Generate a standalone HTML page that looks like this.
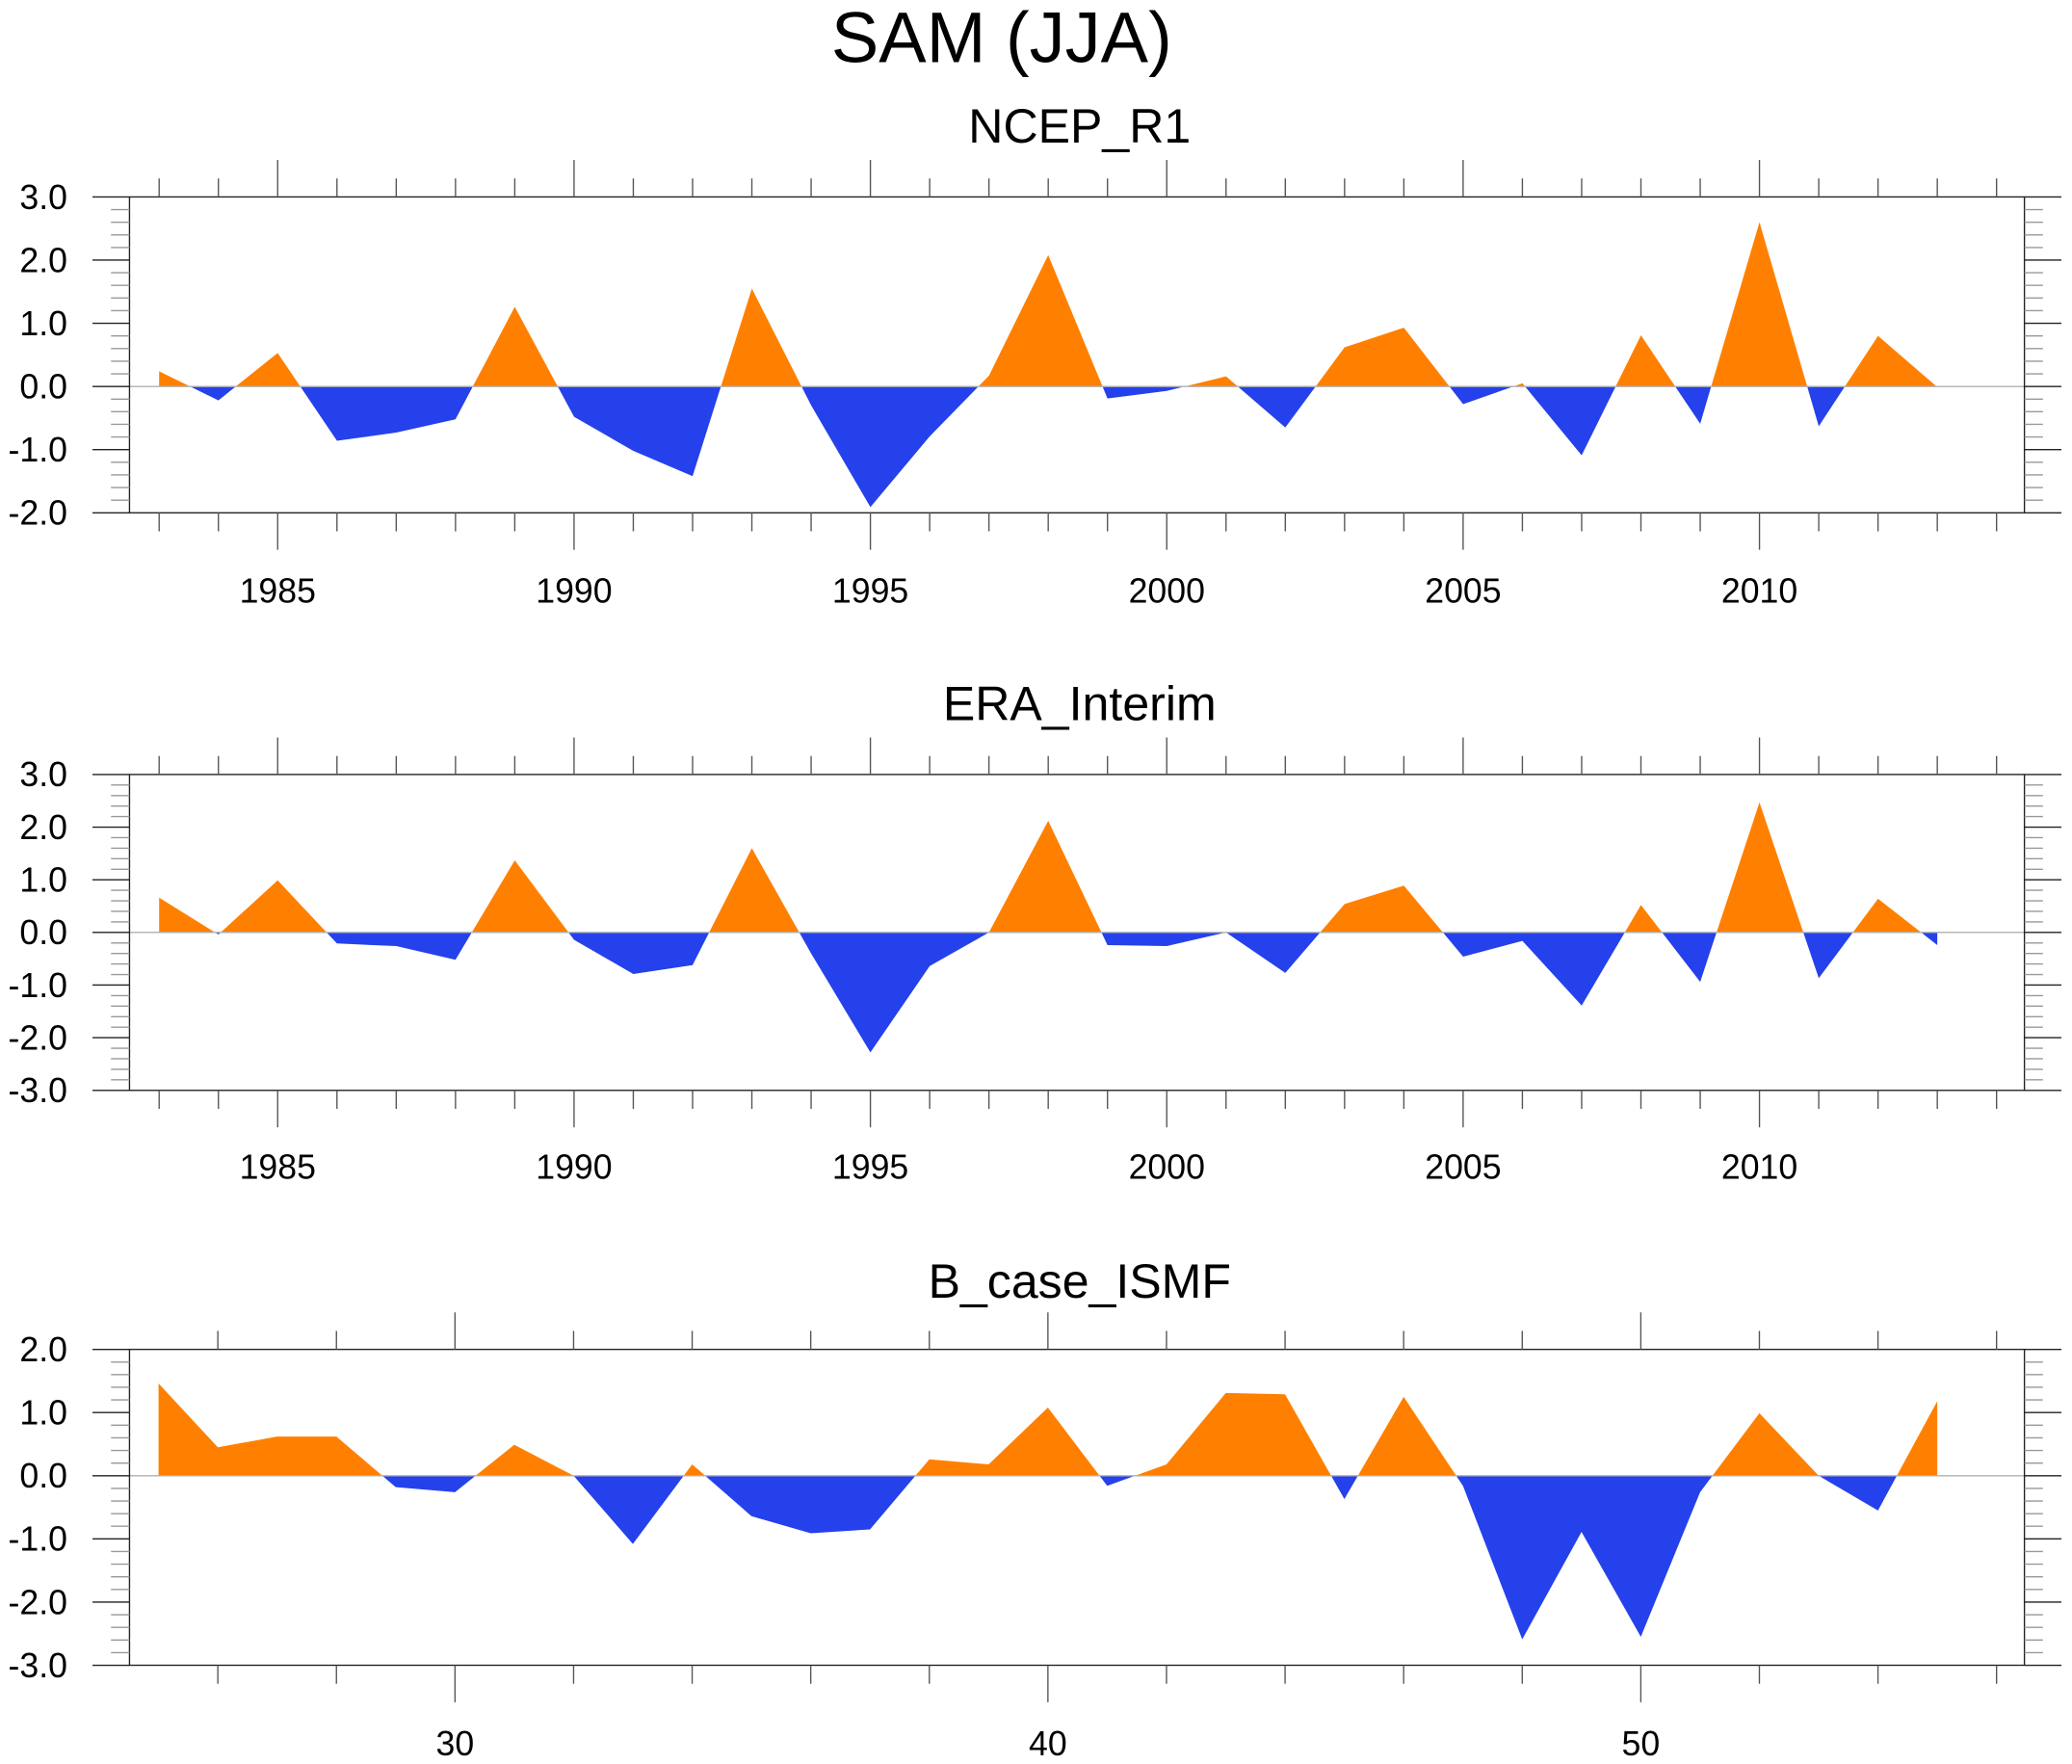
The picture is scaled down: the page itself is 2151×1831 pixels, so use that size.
<!DOCTYPE html>
<html><head><meta charset="utf-8"><style>
html,body{margin:0;padding:0;background:#fff}
svg{display:block;font-family:"Liberation Sans",sans-serif}
</style></head><body>
<svg id="chart" width="2151" height="1831" viewBox="0 0 1568 1334.7" xmlns="http://www.w3.org/2000/svg">
<text x="758" y="47" font-size="54" text-anchor="middle">SAM (JJA)</text>
</svg>
<script>
const ncepYears = [1983,1984,1985,1986,1987,1988,1989,1990,1991,1992,1993,1994,1995,1996,1997,1998,1999,2000,2001,2002,2003,2004,2005,2006,2007,2008,2009,2010,2011,2012,2013];
const ncepValues = [0.24,-0.22,0.53,-0.86,-0.73,-0.52,1.26,-0.48,-1.02,-1.42,1.55,-0.3,-1.91,-0.79,0.17,2.08,-0.19,-0.07,0.16,-0.65,0.62,0.93,-0.28,0.05,-1.09,0.81,-0.59,2.6,-0.63,0.8,-0.01];
const eraValues = [0.66,-0.04,0.99,-0.21,-0.26,-0.52,1.37,-0.14,-0.79,-0.62,1.6,-0.4,-2.28,-0.64,0.0,2.12,-0.24,-0.26,0.0,-0.77,0.54,0.89,-0.46,-0.16,-1.39,0.52,-0.94,2.47,-0.87,0.64,-0.24];
const caseYears = [25,26,27,28,29,30,31,32,33,34,35,36,37,38,39,40,41,42,43,44,45,46,47,48,49,50,51,52,53,54,55];
const caseValues = [1.46,0.45,0.62,0.62,-0.18,-0.26,0.49,0.0,-1.08,0.18,-0.64,-0.91,-0.85,0.26,0.18,1.08,-0.16,0.18,1.31,1.29,-0.37,1.25,-0.16,-2.59,-0.89,-2.55,-0.26,0.99,0.0,-0.55,1.18];
const yearTickLabels = [1985,1990,1995,2000,2005,2010];
const caseTickLabels = [30,40,50];

const NS = "http://www.w3.org/2000/svg";
const svg = document.getElementById('chart');
function mk(tag, attrs, parent){const e=document.createElementNS(NS,tag);for(const k in attrs)e.setAttribute(k,attrs[k]);(parent||svg).appendChild(e);return e;}

const L=98,R=1532;
const panels=[
 {name:'ncep-r1',title:'NCEP_R1',titleY:108,top:149,bot:388,ymax:3,ymin:-2,x0:1982.5,x1:2014.47,xs:ncepYears,vs:ncepValues,minorStep:1,minorFrom:1983,minorTo:2014,major:yearTickLabels,labelY:456},
 {name:'era-interim',title:'ERA_Interim',titleY:545,top:586,bot:825,ymax:3,ymin:-3,x0:1982.5,x1:2014.47,xs:ncepYears,vs:eraValues,minorStep:1,minorFrom:1983,minorTo:2014,major:yearTickLabels,labelY:892},
 {name:'b-case-ismf',title:'B_case_ISMF',titleY:982,top:1021,bot:1260,ymax:2,ymin:-3,x0:24.51,x1:56.47,xs:caseYears,vs:caseValues,minorStep:2,minorFrom:26,minorTo:56,major:caseTickLabels,labelY:1328}
];
panels.forEach((p,pi)=>{
  const g=mk('g',{});
  
  
  const sx=v=>L+(v-p.x0)/(p.x1-p.x0)*(R-L);
  const sy=v=>p.top+(p.ymax-v)/(p.ymax-p.ymin)*(p.bot-p.top);
  const t=mk('text',{x:817,y:p.titleY,'font-size':36.5,'text-anchor':'middle'},g);t.textContent=p.title;
  
  
  const z=sy(0);
  const c1=mk('clipPath',{id:'up'+pi},g);mk('rect',{x:L,y:p.top,width:R-L,height:z-p.top},c1);
  const c2=mk('clipPath',{id:'dn'+pi},g);mk('rect',{x:L,y:z,width:R-L,height:p.bot-z},c2);
  let d='M'+sx(p.xs[0])+','+z;
  p.xs.forEach((x,i)=>{d+=' L'+sx(x)+','+sy(p.vs[i]);});
  d+=' L'+sx(p.xs[p.xs.length-1])+','+z+' Z';
  const a1=mk('path',{d:d,fill:'#ff8000','clip-path':'url(#up'+pi+')'},g);
  
  
  const a2=mk('path',{d:d,fill:'#2541eb','clip-path':'url(#dn'+pi+')'},g);
  
  
  mk('line',{x1:L,x2:R,y1:z,y2:z,stroke:'#b0b0b0','stroke-width':1},g);
  mk('rect',{x:L,y:p.top,width:R-L,height:p.bot-p.top,fill:'none',stroke:'#222','stroke-width':1},g);
  for(let k=Math.round(p.ymin*5);k<=Math.round(p.ymax*5);k++){
    const v=k/5, y=sy(v), maj=(k%5===0);
    mk('line',{x1:maj?70:84,x2:L,y1:y,y2:y,stroke:maj?'#222':'#999','stroke-width':1},g);
    mk('line',{x1:R,x2:maj?1560:1546,y1:y,y2:y,stroke:maj?'#222':'#999','stroke-width':1},g);
    if(maj){const tl=mk('text',{x:51,y:y+9,'font-size':26,'text-anchor':'end'},g);tl.textContent=v.toFixed(1);
      
      }
  }
  for(let x=p.minorFrom;x<=p.minorTo;x+=p.minorStep){
    const X=sx(x), maj=p.major.includes(x);
    mk('line',{x1:X,x2:X,y1:maj?p.top-28:p.top-14,y2:p.top,stroke:'#555','stroke-width':1},g);
    mk('line',{x1:X,x2:X,y1:p.bot,y2:maj?p.bot+28:p.bot+14,stroke:'#555','stroke-width':1},g);
  }
  p.major.forEach(m=>{const tl=mk('text',{x:sx(m),y:p.labelY,'font-size':26,'text-anchor':'middle'},g);tl.textContent=m;
    
    });
});
</script>
</body></html>
